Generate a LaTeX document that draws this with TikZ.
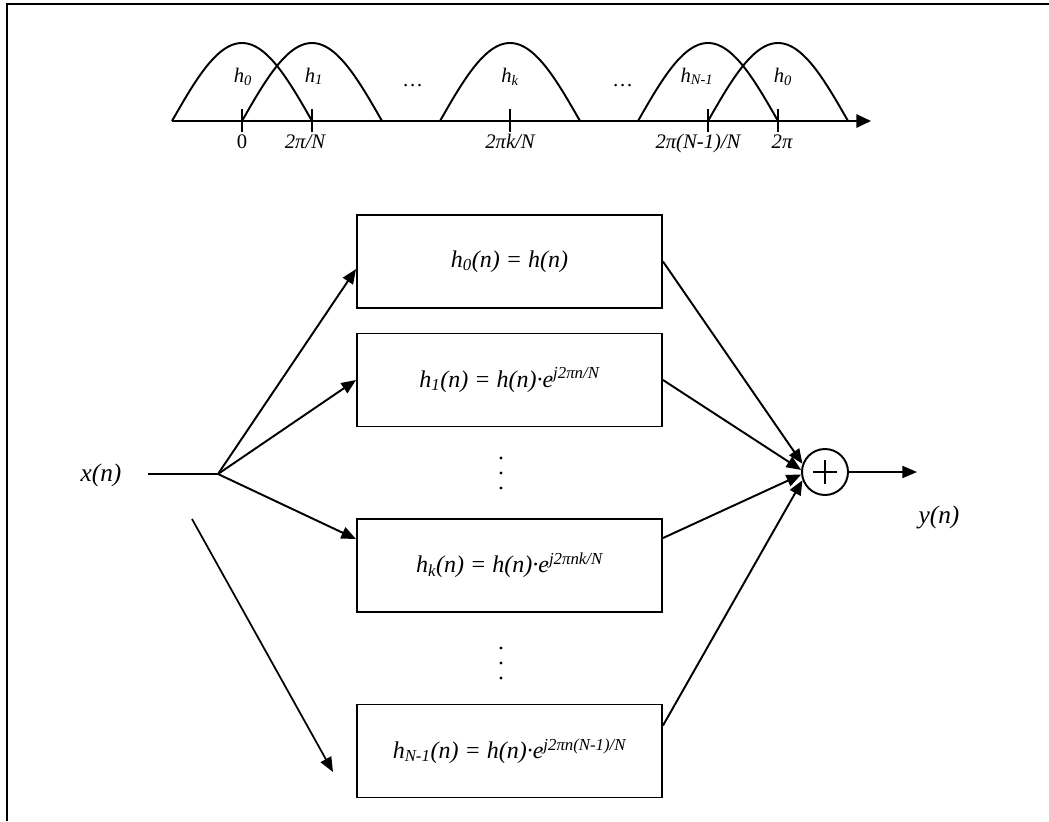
\documentclass[tikz,border=0pt]{standalone}
\usepackage{fontspec}
\setmainfont{Liberation Serif}
\usetikzlibrary{arrows.meta,calc}

\newcommand\lowidx[1]{\textsubscript{#1}}
\newcommand\upidx[1]{\textsuperscript{#1}}

\tikzset{
  arr/.style={-{Triangle[length=11pt,width=9pt]}},
  filterbox/.style={draw, minimum width=228.75pt, minimum height=69.75pt,
    inner sep=0pt, font=\fontsize{18}{21}\selectfont\itshape},
  bandlabel/.style={font=\fontsize{15.5}{18}\selectfont\itshape, anchor=base},
  ticklabel/.style={font=\fontsize{15.5}{18}\selectfont\itshape, anchor=base},
  siglabel/.style={font=\fontsize{19}{22}\selectfont\itshape},
}

\begin{document}
\begin{tikzpicture}[x=0.75pt, y=-0.75pt, line width=1.45pt]
\useasboundingbox (0,0) rectangle (1049,821);

% outer frame
\draw[line width=1.6pt] (7,821) -- (7,4) -- (1049,4);

% ---- frequency axis with the band-pass responses ----
\coordinate (ax0) at (172,121);
\coordinate (ax1) at (871,121);
\draw[-{Triangle[length=11pt,width=10pt]}] (ax0) -- (ax1);

\foreach \c in {242,312,510,708,778}
  \draw (\c,109) -- (\c,132);

\foreach \c in {242,312,510,708,778}
  \draw plot[domain=0:180, samples=60, smooth] ({\c-70+\x*7/9},{121-78*sin(\x)});

\node[bandlabel] (l0)  at (243,82) {h\lowidx{0}};
\node[bandlabel] (l1)  at (314,82) {h\lowidx{1}};
\node[bandlabel] (ld1) at (413,86) {…};
\node[bandlabel] (lk)  at (510,82) {h\lowidx{k}};
\node[bandlabel] (ld2) at (623,86) {…};
\node[bandlabel] (lN)  at (697,82) {h\lowidx{N-1}};
\node[bandlabel] (l0b) at (783,82) {h\lowidx{0}};

\node[ticklabel] (t0)  at (242,148) {\upshape 0};
\node[ticklabel] (t1)  at (305,148) {2π/N};
\node[ticklabel] (tk)  at (510,148) {2πk/N};
\node[ticklabel] (tN)  at (698,148) {2π(N-1)/N};
\node[ticklabel] (t2)  at (782,148) {2π};

% ---- filter bank ----
\node[filterbox] (b0) at (509.5,261.5) {h\lowidx{0}(n) = h(n)};
\node[filterbox] (b1) at (509.5,380)   {h\lowidx{1}(n) = h(n)·e\upidx{j2πn/N}};
\node[filterbox] (bk) at (509.5,565.5) {h\lowidx{k}(n) = h(n)·e\upidx{j2πnk/N}};
\node[filterbox] (bN) at (509.5,751)   {h\lowidx{N-1}(n) = h(n)·e\upidx{j2πn(N-1)/N}};

\foreach \y in {458,473,488} \fill (501,\y) circle (1.3pt);
\foreach \y in {648,663,678} \fill (501,\y) circle (1.3pt);

% input
\node[siglabel] (xn) at (101,475) {x(n)};
\coordinate (xstart) at (148,474);
\coordinate (fork) at (218,474);
\draw (xstart) -- (fork);
\draw[arr] (fork) -- ($(b0.north west)+(0,55)$);
\draw[arr] (fork) -- (b1.west);
\draw[arr] (fork) -- ($(bk.north west)+(0,21)$);

\coordinate (skewstart) at (192,519);
\coordinate (skewend) at (333,772);
\draw[arr, line width=1.3pt] (skewstart) -- (skewend);

% summation
\node[draw, circle, minimum size=34.5pt, inner sep=0pt] (sum) at (825,472) {};
\draw[line width=1.2pt] ([xshift=-9pt]sum.center) -- ([xshift=9pt]sum.center);
\draw[line width=1.2pt] ([yshift=-9pt]sum.center) -- ([yshift=9pt]sum.center);

\draw[arr] (b0.east) -- (sum.160);
\draw[arr] (b1.east) -- (sum.175);
\draw[arr] ($(bk.north east)+(0,20)$) -- (sum.186);
\draw[arr] ($(bN.north east)+(0,22)$) -- (sum.200);

\coordinate (yout) at (917,472);
\draw[arr] (sum.east) -- (yout);
\node[siglabel] (yn) at (939,517) {y(n)};
\end{tikzpicture}
\end{document}
